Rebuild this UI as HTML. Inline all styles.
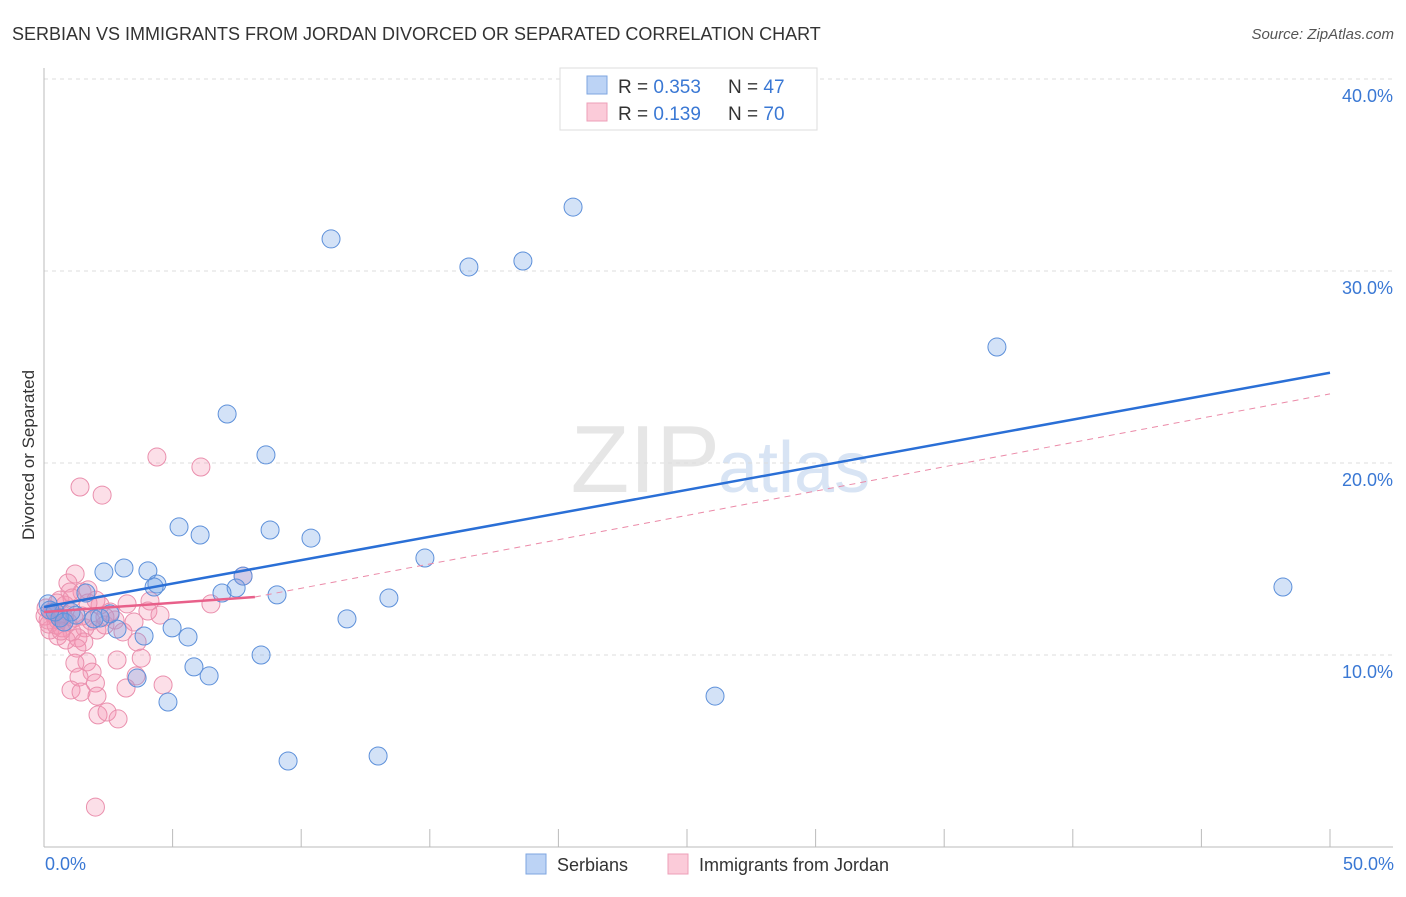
<!DOCTYPE html>
<html><head><meta charset="utf-8"><style>
body{margin:0;background:#fff;font-family:"Liberation Sans",sans-serif;}
svg text{font-family:"Liberation Sans",sans-serif;}
</style></head><body>
<svg id="chart" width="1406" height="892">
<text x="12" y="40" font-size="18" fill="#333">SERBIAN VS IMMIGRANTS FROM JORDAN DIVORCED OR SEPARATED CORRELATION CHART</text>
<text x="1394" y="39" font-size="15" fill="#555" font-style="italic" text-anchor="end">Source: ZipAtlas.com</text>
<text x="720" y="492" font-size="96" fill="#e6e6e6" text-anchor="end" font-family="Liberation Serif">ZIP</text>
<text x="718" y="492" font-size="72" fill="#d8e4f4">atlas</text>
<g id="grid"></g>
<g id="axes"></g>
<g id="pts"></g>
<g id="trend"></g>
<text x="34" y="455" font-size="17" fill="#333" transform="rotate(-90 34 455)" text-anchor="middle">Divorced or Separated</text>
<text x="45" y="870" font-size="18" fill="#3a78d4">0.0%</text>
<text x="1394" y="870" font-size="18" fill="#3a78d4" text-anchor="end">50.0%</text>
<g>
<rect x="560" y="68" width="257" height="62" fill="#fff" stroke="#ddd"/>
<rect x="587" y="76" width="20" height="18" fill="#bcd3f5" stroke="#7ea6e0"/>
<rect x="587" y="103" width="20" height="18" fill="#fbcbd9" stroke="#ee9fb8"/>
<text x="618" y="93" font-size="19" fill="#333">R = <tspan fill="#3a78d4">0.353</tspan></text>
<text x="728" y="93" font-size="19" fill="#333">N = <tspan fill="#3a78d4">47</tspan></text>
<text x="618" y="120" font-size="19" fill="#333">R = <tspan fill="#3a78d4"> 0.139</tspan></text>
<text x="728" y="120" font-size="19" fill="#333">N = <tspan fill="#3a78d4">70</tspan></text>
</g>
<g>
<rect x="526" y="854" width="20" height="20" fill="#bcd3f5" stroke="#7ea6e0"/>
<text x="557" y="871" font-size="18" fill="#333">Serbians</text>
<rect x="668" y="854" width="20" height="20" fill="#fbcbd9" stroke="#ee9fb8"/>
<text x="699" y="871" font-size="18" fill="#333">Immigrants from Jordan</text>
</g>
</svg>
<script>
const yTicks=[10,20,30,40];
const yTickLabels=["10.0%","20.0%","30.0%","40.0%"];
const xTicks=[5,10,15,20,25,30,35,40,45,50];
const blueX=[20.57,11.16,16.52,18.62,37.05,7.12,8.63,5.25,6.07,8.79,10.38,14.81,2.33,3.11,4.04,4.39,4.28,7.74,7.47,6.92,9.06,13.41,48.17,1.63,11.78,4.98,5.60,3.89,2.84,2.57,1.94,1.24,0.62,0.16,0.43,8.44,5.83,6.42,3.62,4.82,26.09,9.49,12.99,1.05,2.18,0.23,0.78];
const blueY=[33.33,31.67,30.21,30.52,26.04,22.55,20.42,16.67,16.25,16.51,16.09,15.05,14.32,14.53,14.38,13.70,13.54,14.11,13.49,13.23,13.13,12.97,13.54,13.23,11.88,11.41,10.94,10.99,11.35,12.14,11.88,12.08,11.93,12.66,12.24,10.0,9.38,8.91,8.80,7.55,7.86,4.48,4.74,12.24,11.93,12.34,11.72];
const pinkX=[4.39,6.10,1.40,2.26,7.74,1.21,0.93,1.48,1.71,2.02,1.01,0.62,3.23,4.12,6.49,2.57,4.04,3.50,3.07,2.06,1.59,1.09,0.54,0.23,0.16,0.31,0.47,0.70,0.86,1.32,1.55,2.37,2.76,3.62,1.28,1.67,1.20,2.84,3.78,1.87,1.36,2.00,3.58,4.63,1.05,1.44,2.06,3.19,2.10,2.45,2.88,2.00,0.35,0.04,0.54,0.08,0.74,0.93,1.17,1.83,2.18,0.51,0.82,4.51,2.37,0.19,0.66,1.48,1.09,1.71];
const pinkY=[20.31,19.79,18.75,18.33,14.11,14.22,13.75,13.28,13.39,12.86,13.28,12.86,12.66,12.81,12.66,12.24,12.29,11.72,11.20,11.30,11.41,11.20,10.99,11.30,11.82,12.24,11.56,11.41,10.78,10.89,10.68,11.56,11.82,10.68,10.36,9.64,9.58,9.74,9.84,9.11,8.85,8.54,8.91,8.44,8.18,8.07,7.86,8.28,6.88,7.03,6.67,2.08,12.14,12.03,11.82,12.45,12.08,11.72,11.93,11.77,12.60,12.71,12.60,12.08,11.98,11.61,11.25,12.03,12.97,12.71];
const blueTrendX=[0,50], blueTrendY=[12.5,24.7];
const pinkSolidX=[0,8.2], pinkSolidY=[12.24,13.02];
const pinkDashX=[8.2,50], pinkDashY=[13.02,23.6];
const sx=v=>44+v*25.72, sy=v=>847-v*19.2;
const NS="http://www.w3.org/2000/svg";
function mk(tag,attrs,parent){const e=document.createElementNS(NS,tag);for(const k in attrs)e.setAttribute(k,attrs[k]);document.getElementById(parent).appendChild(e);return e;}
yTicks.forEach((t,i)=>{
 const l=mk('line',{x1:44,x2:1393,y1:sy(t),y2:sy(t),stroke:'#ddd','stroke-dasharray':'4,4'},'grid');
 
 
 const tx=mk('text',{x:1393,y:sy(t)+23,'font-size':18,fill:'#3a78d4','text-anchor':'end'},'grid');
 tx.textContent=yTickLabels[i];
 
 
});
const ax=mk('line',{x1:44,x2:1393,y1:847,y2:847,stroke:'#bbb'},'axes');


const ay=mk('line',{x1:44,x2:44,y1:68,y2:847,stroke:'#bbb'},'axes');


xTicks.forEach(t=>{
 const l=mk('line',{x1:sx(t),x2:sx(t),y1:829,y2:847,stroke:'#bbb'},'axes');
 
 
});
pinkX.forEach((v,i)=>{
 const c=mk('circle',{cx:sx(v),cy:sy(pinkY[i]),r:9,fill:'rgba(244,150,180,0.3)',stroke:'#ea8fad','stroke-width':1},'pts');
 
 
});
blueX.forEach((v,i)=>{
 const c=mk('circle',{cx:sx(v),cy:sy(blueY[i]),r:9,fill:'rgba(110,160,230,0.3)',stroke:'#5d90da','stroke-width':1},'pts');
 
 
});
const b=mk('line',{x1:sx(blueTrendX[0]),y1:sy(blueTrendY[0]),x2:sx(blueTrendX[1]),y2:sy(blueTrendY[1]),stroke:'#2a6fd6','stroke-width':2.5},'trend');


const p=mk('line',{x1:sx(pinkSolidX[0]),y1:sy(pinkSolidY[0]),x2:sx(pinkSolidX[1]),y2:sy(pinkSolidY[1]),stroke:'#e8608a','stroke-width':2.5},'trend');


const d=mk('line',{x1:sx(pinkDashX[0]),y1:sy(pinkDashY[0]),x2:sx(pinkDashX[1]),y2:sy(pinkDashY[1]),stroke:'#eb8aa8','stroke-width':1,'stroke-dasharray':'6,5'},'trend');


</script>
</body></html>
